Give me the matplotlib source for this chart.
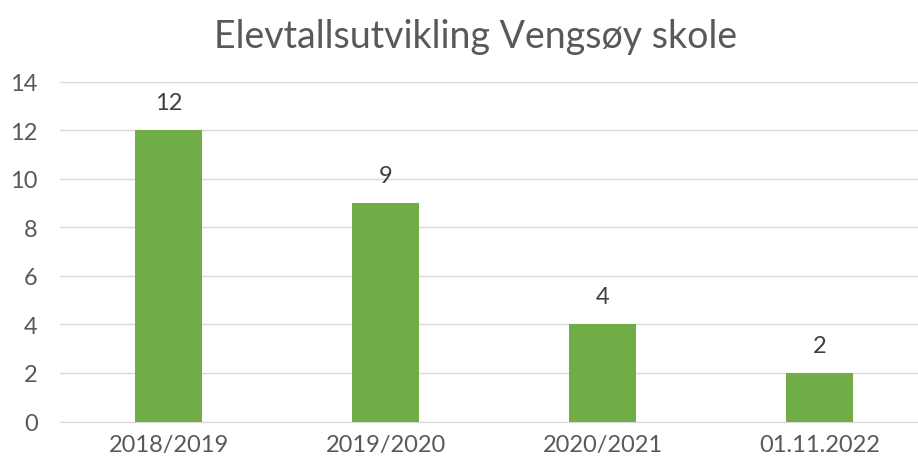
import matplotlib
matplotlib.use("Agg")
import matplotlib.pyplot as plt

# data
categories = ["2018/2019", "2019/2020", "2020/2021", "01.11.2022"]
students = [12, 9, 4, 2]
y_ticks = [0, 2, 4, 6, 8, 10, 12, 14]

plt.rcParams['font.family'] = ['Lato', 'DejaVu Sans']

fig = plt.figure(figsize=(9.18, 4.64), dpi=100)
ax = fig.add_axes([0.0654, 0.0894, 0.9455, 0.7323])

x = range(len(categories))
bars = ax.bar(x, students, width=0.31, color="#70ad47", zorder=3)

for b, v in zip(bars, students):
    ax.text(b.get_x() + b.get_width() / 2, v + 1.15, str(v),
            ha="center", va="center", fontsize=17, color="#404040")

ax.set_xlim(-0.5, len(categories) - 0.5)
ax.set_ylim(0, 14)
ax.set_yticks(y_ticks)
ax.set_xticks(list(x))
ax.set_xticklabels(categories)
ax.grid(axis="y", color="#d9d9d9", linewidth=1, zorder=0)
for s in ["top", "right", "left"]:
    ax.spines[s].set_visible(False)
ax.spines["bottom"].set_color("#d9d9d9")
ax.tick_params(length=0, labelsize=17, colors="#595959")
ax.tick_params(axis="y", pad=16)
ax.tick_params(axis="x", pad=9)

fig.text(0.5185, 0.92, "Elevtallsutvikling Vengsøy skole", ha="center", va="center",
         fontsize=27, color="#595959")

fig.savefig("out.png", dpi=100)
